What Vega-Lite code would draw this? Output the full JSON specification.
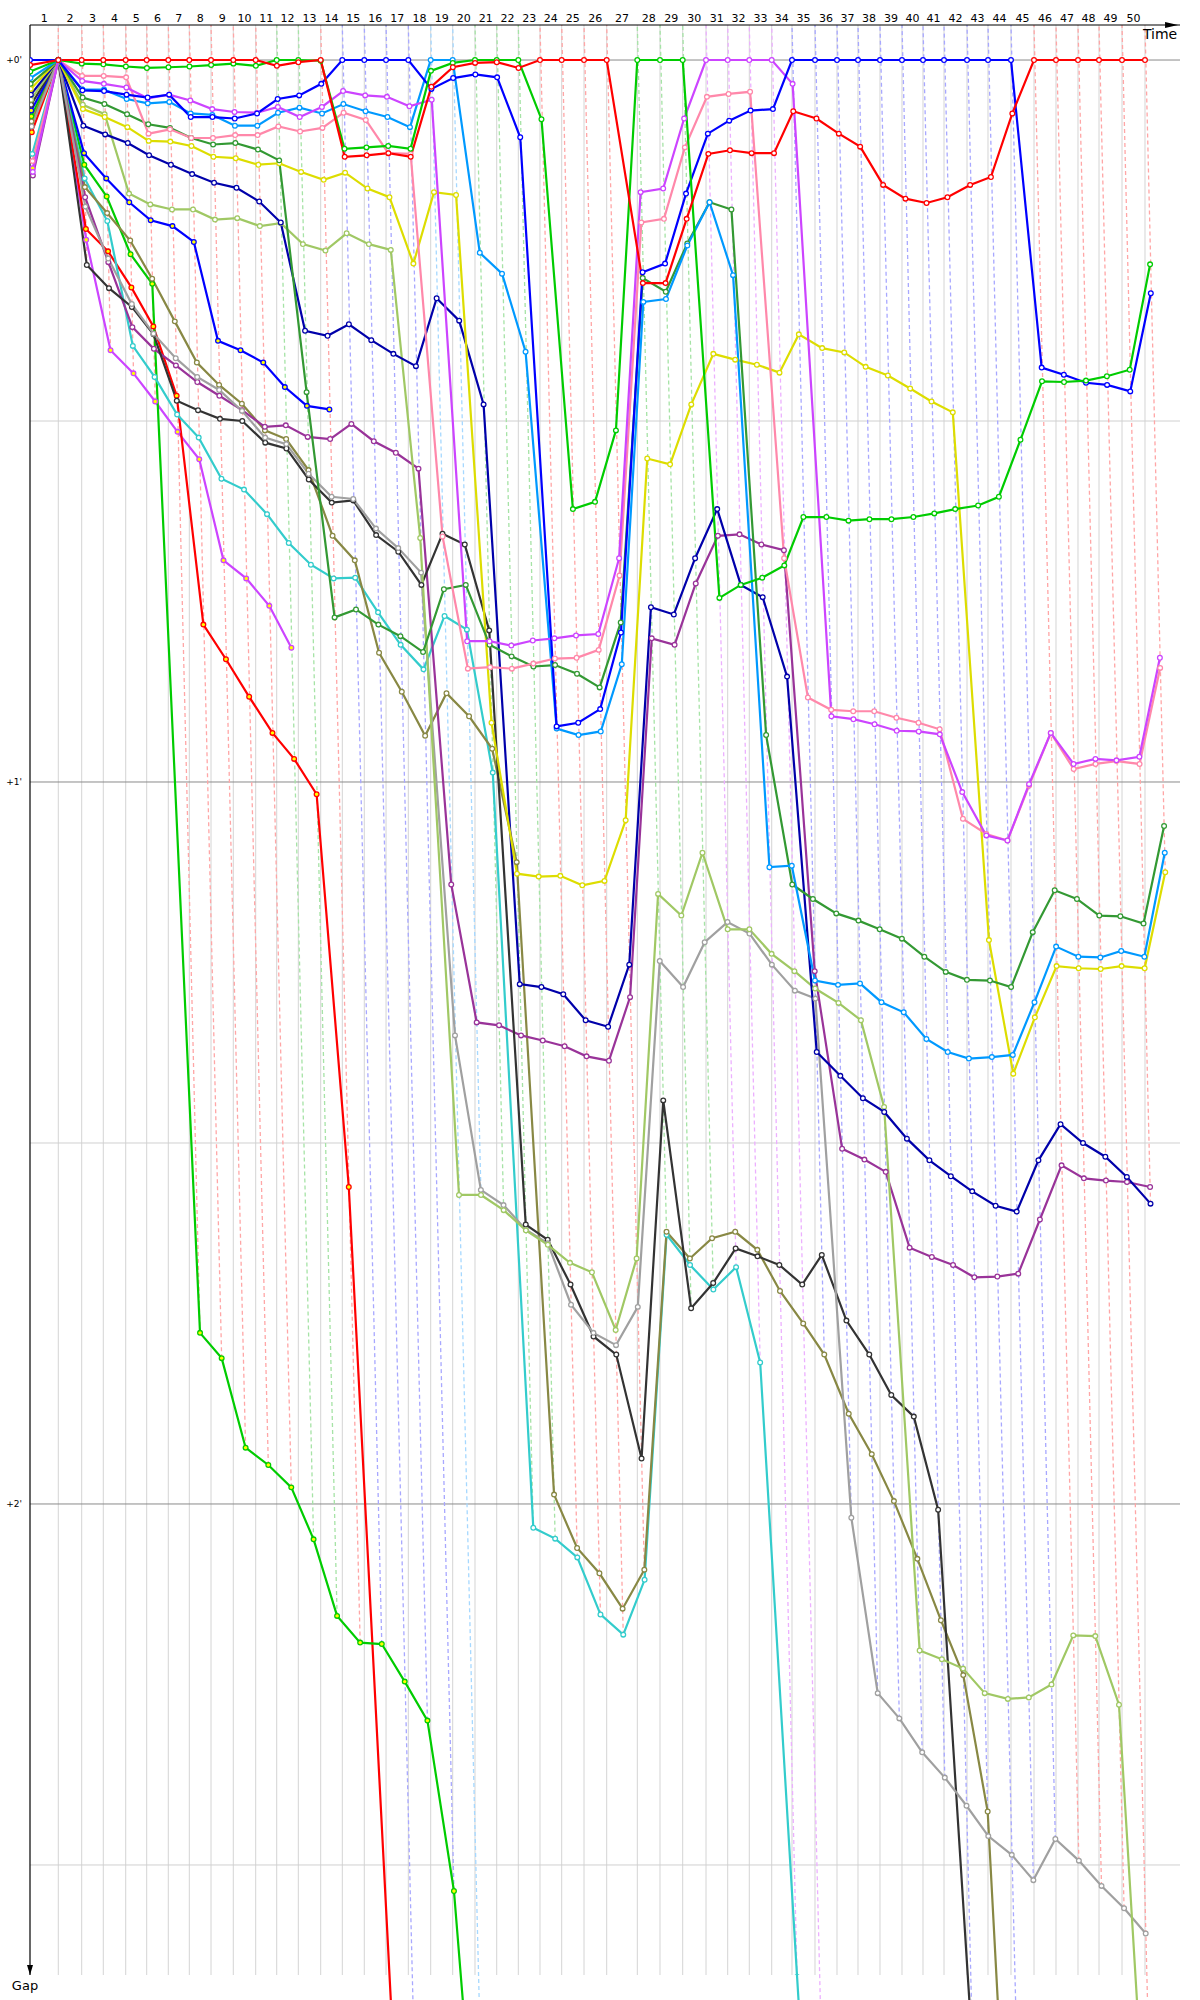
{
"$schema":"https://vega.github.io/schema/vega-lite/v6.json",
"width":1150,"height":1950,
"autosize":{"type":"none"},
"padding":{"left":30,"top":25,"right":20,"bottom":25},
"background":"#ffffff",
"config":{"view":{"stroke":null},"font":"DejaVu Sans"},
"datasets":{
"laps":[
{"k":0,"t":0,"lead":"-"},{"k":1,"t":1.572,"lead":"R"},{"k":2,"t":2.872,"lead":"R"},{"k":3,"t":4.072,"lead":"R"},{"k":4,"t":5.317,"lead":"R"},{"k":5,"t":6.483,"lead":"R"},{"k":6,"t":7.683,"lead":"R"},{"k":7,"t":8.85,"lead":"R"},{"k":8,"t":10.056,"lead":"R"},{"k":9,"t":11.294,"lead":"R"},{"k":10,"t":12.539,"lead":"R"},
{"k":11,"t":13.706,"lead":"G"},{"k":12,"t":14.906,"lead":"G"},{"k":13,"t":16.15,"lead":"R"},{"k":14,"t":17.35,"lead":"B"},{"k":15,"t":18.572,"lead":"B"},{"k":16,"t":19.78,"lead":"B"},{"k":17,"t":21.017,"lead":"B"},{"k":18,"t":22.261,"lead":"LB"},{"k":19,"t":23.483,"lead":"LB"},{"k":20,"t":24.722,"lead":"G"},
{"k":21,"t":25.928,"lead":"G"},{"k":22,"t":27.128,"lead":"G"},{"k":23,"t":28.333,"lead":"R"},{"k":24,"t":29.539,"lead":"R"},{"k":25,"t":30.778,"lead":"R"},{"k":26,"t":32.039,"lead":"R"},{"k":27,"t":33.739,"lead":"G"},{"k":28,"t":35.0,"lead":"G"},{"k":29,"t":36.261,"lead":"G"},{"k":30,"t":37.556,"lead":"M"},
{"k":31,"t":38.761,"lead":"M"},{"k":32,"t":39.961,"lead":"M"},{"k":33,"t":41.206,"lead":"M"},{"k":34,"t":42.333,"lead":"B"},{"k":35,"t":43.611,"lead":"B"},{"k":36,"t":44.833,"lead":"B"},{"k":37,"t":46.0,"lead":"B"},{"k":38,"t":47.222,"lead":"B"},{"k":39,"t":48.444,"lead":"B"},{"k":40,"t":49.611,"lead":"B"},
{"k":41,"t":50.778,"lead":"B"},{"k":42,"t":52.056,"lead":"B"},{"k":43,"t":53.222,"lead":"B"},{"k":44,"t":54.5,"lead":"B"},{"k":45,"t":55.778,"lead":"R"},{"k":46,"t":57.0,"lead":"R"},{"k":47,"t":58.222,"lead":"R"},{"k":48,"t":59.389,"lead":"R"},{"k":49,"t":60.667,"lead":"R"},{"k":50,"t":61.944,"lead":"R"}
],
"gaps":[
{"d":"M2","k":0,"g":0.15},{"d":"M2","k":1,"g":0},{"d":"M2","k":2,"g":0.249},{"d":"M2","k":3,"g":0.402},{"d":"M2","k":4,"g":0.434},{"d":"M2","k":5,"g":0.473},{"d":"M2","k":6,"g":0.515},{"d":"M2","k":7,"g":0.553},{"d":"M2","k":8,"g":0.693},{"d":"M2","k":9,"g":0.718},{"d":"M2","k":10,"g":0.756},{"d":"M2","k":11,"g":0.814},
{"d":"R2","k":0,"g":0.1},{"d":"R2","k":1,"g":0},{"d":"R2","k":2,"g":0.234},{"d":"R2","k":3,"g":0.265},{"d":"R2","k":4,"g":0.315},{"d":"R2","k":5,"g":0.369},{"d":"R2","k":6,"g":0.465},{"d":"R2","k":7,"g":0.782},{"d":"R2","k":8,"g":0.83},{"d":"R2","k":9,"g":0.882},{"d":"R2","k":10,"g":0.932},{"d":"R2","k":11,"g":0.968},{"d":"R2","k":12,"g":1.017},{"d":"R2","k":13,"g":1.561},{"d":"R2","k":15,"g":3.82},
{"d":"G2","k":0,"g":0.078},{"d":"G2","k":1,"g":0},{"d":"G2","k":2,"g":0.145},{"d":"G2","k":3,"g":0.189},{"d":"G2","k":4,"g":0.269},{"d":"G2","k":5,"g":0.31},{"d":"G2","k":6,"g":1.763},{"d":"G2","k":7,"g":1.798},{"d":"G2","k":8,"g":1.922},{"d":"G2","k":9,"g":1.946},{"d":"G2","k":10,"g":1.977},{"d":"G2","k":11,"g":2.049},{"d":"G2","k":12,"g":2.155},{"d":"G2","k":13,"g":2.192},{"d":"G2","k":14,"g":2.194},{"d":"G2","k":15,"g":2.246},{"d":"G2","k":16,"g":2.3},{"d":"G2","k":17,"g":2.536},{"d":"G2","k":18,"g":3.09},
{"d":"B2","k":0,"g":0.07},{"d":"B2","k":1,"g":0},{"d":"B2","k":2,"g":0.129},{"d":"B2","k":3,"g":0.164},{"d":"B2","k":4,"g":0.197},{"d":"B2","k":5,"g":0.222},{"d":"B2","k":6,"g":0.23},{"d":"B2","k":7,"g":0.252},{"d":"B2","k":8,"g":0.389},{"d":"B2","k":9,"g":0.402},{"d":"B2","k":10,"g":0.419},{"d":"B2","k":11,"g":0.453},{"d":"B2","k":12,"g":0.479},{"d":"B2","k":13,"g":0.484},
{"d":"CY","k":0,"g":0.13},{"d":"CY","k":1,"g":0},{"d":"CY","k":2,"g":0.164},{"d":"CY","k":3,"g":0.223},{"d":"CY","k":4,"g":0.396},{"d":"CY","k":5,"g":0.439},{"d":"CY","k":6,"g":0.491},{"d":"CY","k":7,"g":0.523},{"d":"CY","k":8,"g":0.58},{"d":"CY","k":9,"g":0.595},{"d":"CY","k":10,"g":0.629},{"d":"CY","k":11,"g":0.669},{"d":"CY","k":12,"g":0.699},{"d":"CY","k":13,"g":0.718},{"d":"CY","k":14,"g":0.717},{"d":"CY","k":15,"g":0.765},{"d":"CY","k":16,"g":0.81},{"d":"CY","k":17,"g":0.844},{"d":"CY","k":18,"g":0.77},{"d":"CY","k":19,"g":0.789},{"d":"CY","k":20,"g":0.987},{"d":"CY","k":21,"g":2.033},{"d":"CY","k":22,"g":2.048},{"d":"CY","k":23,"g":2.074},{"d":"CY","k":24,"g":2.153},{"d":"CY","k":25,"g":2.181},{"d":"CY","k":26,"g":2.105},{"d":"CY","k":27,"g":1.627},{"d":"CY","k":28,"g":1.669},{"d":"CY","k":29,"g":1.703},{"d":"CY","k":30,"g":1.672},{"d":"CY","k":31,"g":1.804},{"d":"CY","k":32,"g":2.655},{"d":"CY","k":33,"g":3.5},
{"d":"OL","k":0,"g":0.085},{"d":"OL","k":1,"g":0},{"d":"OL","k":2,"g":0.176},{"d":"OL","k":3,"g":0.212},{"d":"OL","k":4,"g":0.25},{"d":"OL","k":5,"g":0.303},{"d":"OL","k":6,"g":0.362},{"d":"OL","k":7,"g":0.419},{"d":"OL","k":8,"g":0.45},{"d":"OL","k":9,"g":0.476},{"d":"OL","k":10,"g":0.513},{"d":"OL","k":11,"g":0.525},{"d":"OL","k":12,"g":0.568},{"d":"OL","k":13,"g":0.659},{"d":"OL","k":14,"g":0.693},{"d":"OL","k":15,"g":0.821},{"d":"OL","k":16,"g":0.875},{"d":"OL","k":17,"g":0.936},{"d":"OL","k":18,"g":0.877},{"d":"OL","k":19,"g":0.909},{"d":"OL","k":20,"g":0.954},{"d":"OL","k":21,"g":1.111},{"d":"OL","k":22,"g":1.987},{"d":"OL","k":23,"g":2.061},{"d":"OL","k":24,"g":2.096},{"d":"OL","k":25,"g":2.145},{"d":"OL","k":26,"g":2.091},{"d":"OL","k":27,"g":1.623},{"d":"OL","k":28,"g":1.66},{"d":"OL","k":29,"g":1.632},{"d":"OL","k":30,"g":1.623},{"d":"OL","k":31,"g":1.648},{"d":"OL","k":32,"g":1.705},{"d":"OL","k":33,"g":1.75},{"d":"OL","k":34,"g":1.793},{"d":"OL","k":35,"g":1.875},{"d":"OL","k":36,"g":1.931},{"d":"OL","k":37,"g":1.996},{"d":"OL","k":38,"g":2.076},{"d":"OL","k":39,"g":2.161},{"d":"OL","k":40,"g":2.237},{"d":"OL","k":41,"g":2.426},{"d":"OL","k":42,"g":3.55},
{"d":"PU","k":0,"g":0.16},{"d":"PU","k":1,"g":0},{"d":"PU","k":2,"g":0.19},{"d":"PU","k":3,"g":0.28},{"d":"PU","k":4,"g":0.37},{"d":"PU","k":5,"g":0.4},{"d":"PU","k":6,"g":0.423},{"d":"PU","k":7,"g":0.446},{"d":"PU","k":8,"g":0.465},{"d":"PU","k":9,"g":0.485},{"d":"PU","k":10,"g":0.508},{"d":"PU","k":11,"g":0.506},{"d":"PU","k":12,"g":0.522},{"d":"PU","k":13,"g":0.525},{"d":"PU","k":14,"g":0.504},{"d":"PU","k":15,"g":0.528},{"d":"PU","k":16,"g":0.544},{"d":"PU","k":17,"g":0.566},{"d":"PU","k":18,"g":1.142},{"d":"PU","k":19,"g":1.333},{"d":"PU","k":20,"g":1.337},{"d":"PU","k":21,"g":1.351},{"d":"PU","k":22,"g":1.358},{"d":"PU","k":23,"g":1.366},{"d":"PU","k":24,"g":1.38},{"d":"PU","k":25,"g":1.386},{"d":"PU","k":26,"g":1.298},{"d":"PU","k":27,"g":0.801},{"d":"PU","k":28,"g":0.81},{"d":"PU","k":29,"g":0.725},{"d":"PU","k":30,"g":0.659},{"d":"PU","k":31,"g":0.657},{"d":"PU","k":32,"g":0.671},{"d":"PU","k":33,"g":0.679},{"d":"PU","k":34,"g":1.262},{"d":"PU","k":35,"g":1.508},{"d":"PU","k":36,"g":1.523},{"d":"PU","k":37,"g":1.54},{"d":"PU","k":38,"g":1.645},{"d":"PU","k":39,"g":1.658},{"d":"PU","k":40,"g":1.669},{"d":"PU","k":41,"g":1.686},{"d":"PU","k":42,"g":1.685},{"d":"PU","k":43,"g":1.681},{"d":"PU","k":44,"g":1.606},{"d":"PU","k":45,"g":1.531},{"d":"PU","k":46,"g":1.549},{"d":"PU","k":47,"g":1.552},{"d":"PU","k":48,"g":1.554},{"d":"PU","k":49,"g":1.561},
{"d":"BK","k":0,"g":0.062},{"d":"BK","k":1,"g":0},{"d":"BK","k":2,"g":0.284},{"d":"BK","k":3,"g":0.316},{"d":"BK","k":4,"g":0.342},{"d":"BK","k":5,"g":0.38},{"d":"BK","k":6,"g":0.472},{"d":"BK","k":7,"g":0.485},{"d":"BK","k":8,"g":0.497},{"d":"BK","k":9,"g":0.5},{"d":"BK","k":10,"g":0.53},{"d":"BK","k":11,"g":0.538},{"d":"BK","k":12,"g":0.581},{"d":"BK","k":13,"g":0.613},{"d":"BK","k":14,"g":0.61},{"d":"BK","k":15,"g":0.658},{"d":"BK","k":16,"g":0.681},{"d":"BK","k":17,"g":0.727},{"d":"BK","k":18,"g":0.656},{"d":"BK","k":19,"g":0.671},{"d":"BK","k":20,"g":0.79},{"d":"BK","k":21,"g":1.613},{"d":"BK","k":22,"g":1.634},{"d":"BK","k":23,"g":1.696},{"d":"BK","k":24,"g":1.768},{"d":"BK","k":25,"g":1.793},{"d":"BK","k":26,"g":1.937},{"d":"BK","k":27,"g":1.441},{"d":"BK","k":28,"g":1.729},{"d":"BK","k":29,"g":1.694},{"d":"BK","k":30,"g":1.646},{"d":"BK","k":31,"g":1.657},{"d":"BK","k":32,"g":1.669},{"d":"BK","k":33,"g":1.696},{"d":"BK","k":34,"g":1.655},{"d":"BK","k":35,"g":1.746},{"d":"BK","k":36,"g":1.793},{"d":"BK","k":37,"g":1.849},{"d":"BK","k":38,"g":1.879},{"d":"BK","k":39,"g":2.008},{"d":"BK","k":40,"g":2.76},
{"d":"GR","k":0,"g":0.092},{"d":"GR","k":1,"g":0},{"d":"GR","k":2,"g":0.203},{"d":"GR","k":3,"g":0.275},{"d":"GR","k":4,"g":0.338},{"d":"GR","k":5,"g":0.379},{"d":"GR","k":6,"g":0.413},{"d":"GR","k":7,"g":0.439},{"d":"GR","k":8,"g":0.457},{"d":"GR","k":9,"g":0.486},{"d":"GR","k":10,"g":0.523},{"d":"GR","k":11,"g":0.532},{"d":"GR","k":12,"g":0.573},{"d":"GR","k":13,"g":0.605},{"d":"GR","k":14,"g":0.608},{"d":"GR","k":15,"g":0.649},{"d":"GR","k":16,"g":0.676},{"d":"GR","k":17,"g":0.71},{"d":"GR","k":18,"g":1.351},{"d":"GR","k":19,"g":1.565},{"d":"GR","k":20,"g":1.586},{"d":"GR","k":21,"g":1.62},{"d":"GR","k":22,"g":1.639},{"d":"GR","k":23,"g":1.724},{"d":"GR","k":24,"g":1.763},{"d":"GR","k":25,"g":1.78},{"d":"GR","k":26,"g":1.727},{"d":"GR","k":27,"g":1.248},{"d":"GR","k":28,"g":1.284},{"d":"GR","k":29,"g":1.222},{"d":"GR","k":30,"g":1.194},{"d":"GR","k":31,"g":1.21},{"d":"GR","k":32,"g":1.253},{"d":"GR","k":33,"g":1.289},{"d":"GR","k":34,"g":1.3},{"d":"GR","k":35,"g":2.019},{"d":"GR","k":36,"g":2.262},{"d":"GR","k":37,"g":2.297},{"d":"GR","k":38,"g":2.344},{"d":"GR","k":39,"g":2.379},{"d":"GR","k":40,"g":2.418},{"d":"GR","k":41,"g":2.46},{"d":"GR","k":42,"g":2.486},{"d":"GR","k":43,"g":2.521},{"d":"GR","k":44,"g":2.464},{"d":"GR","k":45,"g":2.494},{"d":"GR","k":46,"g":2.529},{"d":"GR","k":47,"g":2.56},{"d":"GR","k":48,"g":2.595},
{"d":"LO","k":0,"g":0.055},{"d":"LO","k":1,"g":0},{"d":"LO","k":2,"g":0.062},{"d":"LO","k":3,"g":0.075},{"d":"LO","k":4,"g":0.185},{"d":"LO","k":5,"g":0.2},{"d":"LO","k":6,"g":0.207},{"d":"LO","k":7,"g":0.207},{"d":"LO","k":8,"g":0.221},{"d":"LO","k":9,"g":0.219},{"d":"LO","k":10,"g":0.23},{"d":"LO","k":11,"g":0.226},{"d":"LO","k":12,"g":0.255},{"d":"LO","k":13,"g":0.264},{"d":"LO","k":14,"g":0.24},{"d":"LO","k":15,"g":0.255},{"d":"LO","k":16,"g":0.263},{"d":"LO","k":17,"g":0.662},{"d":"LO","k":18,"g":1.572},{"d":"LO","k":19,"g":1.572},{"d":"LO","k":20,"g":1.593},{"d":"LO","k":21,"g":1.621},{"d":"LO","k":22,"g":1.641},{"d":"LO","k":23,"g":1.666},{"d":"LO","k":24,"g":1.679},{"d":"LO","k":25,"g":1.759},{"d":"LO","k":26,"g":1.66},{"d":"LO","k":27,"g":1.155},{"d":"LO","k":28,"g":1.185},{"d":"LO","k":29,"g":1.098},{"d":"LO","k":30,"g":1.204},{"d":"LO","k":31,"g":1.204},{"d":"LO","k":32,"g":1.238},{"d":"LO","k":33,"g":1.262},{"d":"LO","k":34,"g":1.286},{"d":"LO","k":35,"g":1.306},{"d":"LO","k":36,"g":1.33},{"d":"LO","k":37,"g":1.45},{"d":"LO","k":38,"g":2.203},{"d":"LO","k":39,"g":2.215},{"d":"LO","k":40,"g":2.228},{"d":"LO","k":41,"g":2.262},{"d":"LO","k":42,"g":2.27},{"d":"LO","k":43,"g":2.268},{"d":"LO","k":44,"g":2.25},{"d":"LO","k":45,"g":2.182},{"d":"LO","k":46,"g":2.183},{"d":"LO","k":47,"g":2.278},{"d":"LO","k":48,"g":3.09},
{"d":"N1","k":0,"g":0.048},{"d":"N1","k":1,"g":0},{"d":"N1","k":2,"g":0.091},{"d":"N1","k":3,"g":0.103},{"d":"N1","k":4,"g":0.115},{"d":"N1","k":5,"g":0.132},{"d":"N1","k":6,"g":0.145},{"d":"N1","k":7,"g":0.158},{"d":"N1","k":8,"g":0.17},{"d":"N1","k":9,"g":0.177},{"d":"N1","k":10,"g":0.196},{"d":"N1","k":11,"g":0.225},{"d":"N1","k":12,"g":0.375},{"d":"N1","k":13,"g":0.382},{"d":"N1","k":14,"g":0.366},{"d":"N1","k":15,"g":0.388},{"d":"N1","k":16,"g":0.407},{"d":"N1","k":17,"g":0.424},{"d":"N1","k":18,"g":0.33},{"d":"N1","k":19,"g":0.361},{"d":"N1","k":20,"g":0.477},{"d":"N1","k":21,"g":1.28},{"d":"N1","k":22,"g":1.284},{"d":"N1","k":23,"g":1.294},{"d":"N1","k":24,"g":1.33},{"d":"N1","k":25,"g":1.339},{"d":"N1","k":26,"g":1.253},{"d":"N1","k":27,"g":0.758},{"d":"N1","k":28,"g":0.768},{"d":"N1","k":29,"g":0.69},{"d":"N1","k":30,"g":0.622},{"d":"N1","k":31,"g":0.727},{"d":"N1","k":32,"g":0.744},{"d":"N1","k":33,"g":0.854},{"d":"N1","k":34,"g":1.374},{"d":"N1","k":35,"g":1.407},{"d":"N1","k":36,"g":1.438},{"d":"N1","k":37,"g":1.457},{"d":"N1","k":38,"g":1.494},{"d":"N1","k":39,"g":1.524},{"d":"N1","k":40,"g":1.546},{"d":"N1","k":41,"g":1.567},{"d":"N1","k":42,"g":1.587},{"d":"N1","k":43,"g":1.595},{"d":"N1","k":44,"g":1.524},{"d":"N1","k":45,"g":1.474},{"d":"N1","k":46,"g":1.5},{"d":"N1","k":47,"g":1.519},{"d":"N1","k":48,"g":1.547},{"d":"N1","k":49,"g":1.584},
{"d":"Y1","k":0,"g":0.04},{"d":"Y1","k":1,"g":0},{"d":"Y1","k":2,"g":0.068},{"d":"Y1","k":3,"g":0.079},{"d":"Y1","k":4,"g":0.093},{"d":"Y1","k":5,"g":0.112},{"d":"Y1","k":6,"g":0.113},{"d":"Y1","k":7,"g":0.119},{"d":"Y1","k":8,"g":0.134},{"d":"Y1","k":9,"g":0.136},{"d":"Y1","k":10,"g":0.145},{"d":"Y1","k":11,"g":0.143},{"d":"Y1","k":12,"g":0.155},{"d":"Y1","k":13,"g":0.166},{"d":"Y1","k":14,"g":0.156},{"d":"Y1","k":15,"g":0.178},{"d":"Y1","k":16,"g":0.19},{"d":"Y1","k":17,"g":0.282},{"d":"Y1","k":18,"g":0.183},{"d":"Y1","k":19,"g":0.187},{"d":"Y1","k":20,"g":0.918},{"d":"Y1","k":21,"g":1.127},{"d":"Y1","k":22,"g":1.131},{"d":"Y1","k":23,"g":1.13},{"d":"Y1","k":24,"g":1.143},{"d":"Y1","k":25,"g":1.137},{"d":"Y1","k":26,"g":1.053},{"d":"Y1","k":27,"g":0.552},{"d":"Y1","k":28,"g":0.56},{"d":"Y1","k":29,"g":0.477},{"d":"Y1","k":30,"g":0.407},{"d":"Y1","k":31,"g":0.415},{"d":"Y1","k":32,"g":0.422},{"d":"Y1","k":33,"g":0.433},{"d":"Y1","k":34,"g":0.38},{"d":"Y1","k":35,"g":0.399},{"d":"Y1","k":36,"g":0.405},{"d":"Y1","k":37,"g":0.425},{"d":"Y1","k":38,"g":0.437},{"d":"Y1","k":39,"g":0.455},{"d":"Y1","k":40,"g":0.473},{"d":"Y1","k":41,"g":0.488},{"d":"Y1","k":42,"g":1.219},{"d":"Y1","k":43,"g":1.404},{"d":"Y1","k":44,"g":1.326},{"d":"Y1","k":45,"g":1.255},{"d":"Y1","k":46,"g":1.258},{"d":"Y1","k":47,"g":1.259},{"d":"Y1","k":48,"g":1.255},{"d":"Y1","k":49,"g":1.258},{"d":"Y1","k":50,"g":1.125},
{"d":"DG","k":0,"g":0.033},{"d":"DG","k":1,"g":0},{"d":"DG","k":2,"g":0.052},{"d":"DG","k":3,"g":0.061},{"d":"DG","k":4,"g":0.075},{"d":"DG","k":5,"g":0.089},{"d":"DG","k":6,"g":0.094},{"d":"DG","k":7,"g":0.108},{"d":"DG","k":8,"g":0.117},{"d":"DG","k":9,"g":0.115},{"d":"DG","k":10,"g":0.124},{"d":"DG","k":11,"g":0.139},{"d":"DG","k":12,"g":0.46},{"d":"DG","k":13,"g":0.772},{"d":"DG","k":14,"g":0.761},{"d":"DG","k":15,"g":0.782},{"d":"DG","k":16,"g":0.798},{"d":"DG","k":17,"g":0.82},{"d":"DG","k":18,"g":0.733},{"d":"DG","k":19,"g":0.727},{"d":"DG","k":20,"g":0.81},{"d":"DG","k":21,"g":0.826},{"d":"DG","k":22,"g":0.84},{"d":"DG","k":23,"g":0.838},{"d":"DG","k":24,"g":0.85},{"d":"DG","k":25,"g":0.869},{"d":"DG","k":26,"g":0.779},{"d":"DG","k":27,"g":0.302},{"d":"DG","k":28,"g":0.321},{"d":"DG","k":29,"g":0.254},{"d":"DG","k":30,"g":0.197},{"d":"DG","k":31,"g":0.207},{"d":"DG","k":32,"g":0.935},{"d":"DG","k":33,"g":1.142},{"d":"DG","k":34,"g":1.162},{"d":"DG","k":35,"g":1.182},{"d":"DG","k":36,"g":1.192},{"d":"DG","k":37,"g":1.204},{"d":"DG","k":38,"g":1.217},{"d":"DG","k":39,"g":1.242},{"d":"DG","k":40,"g":1.263},{"d":"DG","k":41,"g":1.274},{"d":"DG","k":42,"g":1.275},{"d":"DG","k":43,"g":1.284},{"d":"DG","k":44,"g":1.208},{"d":"DG","k":45,"g":1.15},{"d":"DG","k":46,"g":1.162},{"d":"DG","k":47,"g":1.185},{"d":"DG","k":48,"g":1.186},{"d":"DG","k":49,"g":1.196},{"d":"DG","k":50,"g":1.061},
{"d":"LB","k":0,"g":0.025},{"d":"LB","k":1,"g":0},{"d":"LB","k":2,"g":0.041},{"d":"LB","k":3,"g":0.041},{"d":"LB","k":4,"g":0.054},{"d":"LB","k":5,"g":0.06},{"d":"LB","k":6,"g":0.058},{"d":"LB","k":7,"g":0.074},{"d":"LB","k":8,"g":0.076},{"d":"LB","k":9,"g":0.091},{"d":"LB","k":10,"g":0.091},{"d":"LB","k":11,"g":0.073},{"d":"LB","k":12,"g":0.066},{"d":"LB","k":13,"g":0.074},{"d":"LB","k":14,"g":0.061},{"d":"LB","k":15,"g":0.071},{"d":"LB","k":16,"g":0.079},{"d":"LB","k":17,"g":0.093},{"d":"LB","k":18,"g":0},{"d":"LB","k":19,"g":0},{"d":"LB","k":20,"g":0.267},{"d":"LB","k":21,"g":0.296},{"d":"LB","k":22,"g":0.404},{"d":"LB","k":23,"g":0.926},{"d":"LB","k":24,"g":0.935},{"d":"LB","k":25,"g":0.93},{"d":"LB","k":26,"g":0.837},{"d":"LB","k":27,"g":0.335},{"d":"LB","k":28,"g":0.331},{"d":"LB","k":29,"g":0.257},{"d":"LB","k":30,"g":0.197},{"d":"LB","k":31,"g":0.298},{"d":"LB","k":32,"g":1.118},{"d":"LB","k":33,"g":1.116},{"d":"LB","k":34,"g":1.275},{"d":"LB","k":35,"g":1.281},{"d":"LB","k":36,"g":1.279},{"d":"LB","k":37,"g":1.305},{"d":"LB","k":38,"g":1.319},{"d":"LB","k":39,"g":1.356},{"d":"LB","k":40,"g":1.374},{"d":"LB","k":41,"g":1.383},{"d":"LB","k":42,"g":1.381},{"d":"LB","k":43,"g":1.378},{"d":"LB","k":44,"g":1.305},{"d":"LB","k":45,"g":1.228},{"d":"LB","k":46,"g":1.242},{"d":"LB","k":47,"g":1.243},{"d":"LB","k":48,"g":1.234},{"d":"LB","k":49,"g":1.242},{"d":"LB","k":50,"g":1.098},
{"d":"P1","k":0,"g":0.14},{"d":"P1","k":1,"g":0},{"d":"P1","k":2,"g":0.022},{"d":"P1","k":3,"g":0.022},{"d":"P1","k":4,"g":0.024},{"d":"P1","k":5,"g":0.102},{"d":"P1","k":6,"g":0.096},{"d":"P1","k":7,"g":0.108},{"d":"P1","k":8,"g":0.108},{"d":"P1","k":9,"g":0.104},{"d":"P1","k":10,"g":0.104},{"d":"P1","k":11,"g":0.092},{"d":"P1","k":12,"g":0.099},{"d":"P1","k":13,"g":0.094},{"d":"P1","k":14,"g":0.073},{"d":"P1","k":15,"g":0.083},{"d":"P1","k":16,"g":0.129},{"d":"P1","k":17,"g":0.13},{"d":"P1","k":18,"g":0.66},{"d":"P1","k":19,"g":0.843},{"d":"P1","k":20,"g":0.841},{"d":"P1","k":21,"g":0.843},{"d":"P1","k":22,"g":0.836},{"d":"P1","k":23,"g":0.829},{"d":"P1","k":24,"g":0.828},{"d":"P1","k":25,"g":0.817},{"d":"P1","k":26,"g":0.714},{"d":"P1","k":27,"g":0.225},{"d":"P1","k":28,"g":0.22},{"d":"P1","k":29,"g":0.121},{"d":"P1","k":30,"g":0.051},{"d":"P1","k":31,"g":0.047},{"d":"P1","k":32,"g":0.044},{"d":"P1","k":33,"g":0.69},{"d":"P1","k":34,"g":0.883},{"d":"P1","k":35,"g":0.9},{"d":"P1","k":36,"g":0.902},{"d":"P1","k":37,"g":0.902},{"d":"P1","k":38,"g":0.911},{"d":"P1","k":39,"g":0.918},{"d":"P1","k":40,"g":0.927},{"d":"P1","k":41,"g":1.051},{"d":"P1","k":42,"g":1.072},{"d":"P1","k":43,"g":1.081},{"d":"P1","k":44,"g":1.005},{"d":"P1","k":45,"g":0.932},{"d":"P1","k":46,"g":0.982},{"d":"P1","k":47,"g":0.975},{"d":"P1","k":48,"g":0.971},{"d":"P1","k":49,"g":0.975},{"d":"P1","k":50,"g":0.842},
{"d":"M1","k":0,"g":0.155},{"d":"M1","k":1,"g":0},{"d":"M1","k":2,"g":0.029},{"d":"M1","k":3,"g":0.033},{"d":"M1","k":4,"g":0.038},{"d":"M1","k":5,"g":0.053},{"d":"M1","k":6,"g":0.048},{"d":"M1","k":7,"g":0.056},{"d":"M1","k":8,"g":0.068},{"d":"M1","k":9,"g":0.072},{"d":"M1","k":10,"g":0.073},{"d":"M1","k":11,"g":0.065},{"d":"M1","k":12,"g":0.079},{"d":"M1","k":13,"g":0.065},{"d":"M1","k":14,"g":0.043},{"d":"M1","k":15,"g":0.049},{"d":"M1","k":16,"g":0.051},{"d":"M1","k":17,"g":0.064},{"d":"M1","k":18,"g":0.055},{"d":"M1","k":19,"g":0.805},{"d":"M1","k":20,"g":0.805},{"d":"M1","k":21,"g":0.811},{"d":"M1","k":22,"g":0.804},{"d":"M1","k":23,"g":0.801},{"d":"M1","k":24,"g":0.797},{"d":"M1","k":25,"g":0.795},{"d":"M1","k":26,"g":0.69},{"d":"M1","k":27,"g":0.183},{"d":"M1","k":28,"g":0.178},{"d":"M1","k":29,"g":0.081},{"d":"M1","k":30,"g":0},{"d":"M1","k":31,"g":0},{"d":"M1","k":32,"g":0},{"d":"M1","k":33,"g":0},{"d":"M1","k":34,"g":0.033},{"d":"M1","k":35,"g":0.909},{"d":"M1","k":36,"g":0.913},{"d":"M1","k":37,"g":0.92},{"d":"M1","k":38,"g":0.929},{"d":"M1","k":39,"g":0.93},{"d":"M1","k":40,"g":0.934},{"d":"M1","k":41,"g":1.014},{"d":"M1","k":42,"g":1.074},{"d":"M1","k":43,"g":1.081},{"d":"M1","k":44,"g":1.003},{"d":"M1","k":45,"g":0.932},{"d":"M1","k":46,"g":0.975},{"d":"M1","k":47,"g":0.968},{"d":"M1","k":48,"g":0.97},{"d":"M1","k":49,"g":0.965},{"d":"M1","k":50,"g":0.828},
{"d":"B1","k":0,"g":0},{"d":"B1","k":1,"g":0},{"d":"B1","k":2,"g":0.042},{"d":"B1","k":3,"g":0.043},{"d":"B1","k":4,"g":0.048},{"d":"B1","k":5,"g":0.052},{"d":"B1","k":6,"g":0.048},{"d":"B1","k":7,"g":0.079},{"d":"B1","k":8,"g":0.079},{"d":"B1","k":9,"g":0.081},{"d":"B1","k":10,"g":0.074},{"d":"B1","k":11,"g":0.054},{"d":"B1","k":12,"g":0.049},{"d":"B1","k":13,"g":0.033},{"d":"B1","k":14,"g":0},{"d":"B1","k":15,"g":0},{"d":"B1","k":16,"g":0},{"d":"B1","k":17,"g":0},{"d":"B1","k":18,"g":0.04},{"d":"B1","k":19,"g":0.025},{"d":"B1","k":20,"g":0.02},{"d":"B1","k":21,"g":0.024},{"d":"B1","k":22,"g":0.107},{"d":"B1","k":23,"g":0.923},{"d":"B1","k":24,"g":0.918},{"d":"B1","k":25,"g":0.899},{"d":"B1","k":26,"g":0.793},{"d":"B1","k":27,"g":0.294},{"d":"B1","k":28,"g":0.282},{"d":"B1","k":29,"g":0.185},{"d":"B1","k":30,"g":0.102},{"d":"B1","k":31,"g":0.084},{"d":"B1","k":32,"g":0.07},{"d":"B1","k":33,"g":0.068},{"d":"B1","k":34,"g":0},{"d":"B1","k":35,"g":0},{"d":"B1","k":36,"g":0},{"d":"B1","k":37,"g":0},{"d":"B1","k":38,"g":0},{"d":"B1","k":39,"g":0},{"d":"B1","k":40,"g":0},{"d":"B1","k":41,"g":0},{"d":"B1","k":42,"g":0},{"d":"B1","k":43,"g":0},{"d":"B1","k":44,"g":0},{"d":"B1","k":45,"g":0.426},{"d":"B1","k":46,"g":0.436},{"d":"B1","k":47,"g":0.447},{"d":"B1","k":48,"g":0.45},{"d":"B1","k":49,"g":0.459},{"d":"B1","k":50,"g":0.323},
{"d":"G1","k":0,"g":0.016},{"d":"G1","k":1,"g":0},{"d":"G1","k":2,"g":0.005},{"d":"G1","k":3,"g":0.006},{"d":"G1","k":4,"g":0.009},{"d":"G1","k":5,"g":0.011},{"d":"G1","k":6,"g":0.01},{"d":"G1","k":7,"g":0.009},{"d":"G1","k":8,"g":0.007},{"d":"G1","k":9,"g":0.005},{"d":"G1","k":10,"g":0.008},{"d":"G1","k":11,"g":0},{"d":"G1","k":12,"g":0},{"d":"G1","k":13,"g":0.001},{"d":"G1","k":14,"g":0.123},{"d":"G1","k":15,"g":0.121},{"d":"G1","k":16,"g":0.119},{"d":"G1","k":17,"g":0.123},{"d":"G1","k":18,"g":0.015},{"d":"G1","k":19,"g":0.004},{"d":"G1","k":20,"g":0},{"d":"G1","k":21,"g":0},{"d":"G1","k":22,"g":0},{"d":"G1","k":23,"g":0.082},{"d":"G1","k":24,"g":0.622},{"d":"G1","k":25,"g":0.612},{"d":"G1","k":26,"g":0.513},{"d":"G1","k":27,"g":0},{"d":"G1","k":28,"g":0},{"d":"G1","k":29,"g":0},{"d":"G1","k":30,"g":0.745},{"d":"G1","k":31,"g":0.727},{"d":"G1","k":32,"g":0.717},{"d":"G1","k":33,"g":0.7},{"d":"G1","k":34,"g":0.633},{"d":"G1","k":35,"g":0.633},{"d":"G1","k":36,"g":0.638},{"d":"G1","k":37,"g":0.636},{"d":"G1","k":38,"g":0.636},{"d":"G1","k":39,"g":0.633},{"d":"G1","k":40,"g":0.628},{"d":"G1","k":41,"g":0.622},{"d":"G1","k":42,"g":0.617},{"d":"G1","k":43,"g":0.605},{"d":"G1","k":44,"g":0.526},{"d":"G1","k":45,"g":0.445},{"d":"G1","k":46,"g":0.446},{"d":"G1","k":47,"g":0.444},{"d":"G1","k":48,"g":0.438},{"d":"G1","k":49,"g":0.429},{"d":"G1","k":50,"g":0.283},
{"d":"R1","k":0,"g":0.007},{"d":"R1","k":1,"g":0},{"d":"R1","k":2,"g":0},{"d":"R1","k":3,"g":0},{"d":"R1","k":4,"g":0},{"d":"R1","k":5,"g":0},{"d":"R1","k":6,"g":0},{"d":"R1","k":7,"g":0},{"d":"R1","k":8,"g":0},{"d":"R1","k":9,"g":0},{"d":"R1","k":10,"g":0},{"d":"R1","k":11,"g":0.008},{"d":"R1","k":12,"g":0.003},{"d":"R1","k":13,"g":0},{"d":"R1","k":14,"g":0.134},{"d":"R1","k":15,"g":0.132},{"d":"R1","k":16,"g":0.129},{"d":"R1","k":17,"g":0.134},{"d":"R1","k":18,"g":0.037},{"d":"R1","k":19,"g":0.01},{"d":"R1","k":20,"g":0.004},{"d":"R1","k":21,"g":0.003},{"d":"R1","k":22,"g":0.011},{"d":"R1","k":23,"g":0},{"d":"R1","k":24,"g":0},{"d":"R1","k":25,"g":0},{"d":"R1","k":26,"g":0},{"d":"R1","k":27,"g":0.309},{"d":"R1","k":28,"g":0.309},{"d":"R1","k":29,"g":0.22},{"d":"R1","k":30,"g":0.13},{"d":"R1","k":31,"g":0.125},{"d":"R1","k":32,"g":0.129},{"d":"R1","k":33,"g":0.129},{"d":"R1","k":34,"g":0.071},{"d":"R1","k":35,"g":0.081},{"d":"R1","k":36,"g":0.102},{"d":"R1","k":37,"g":0.12},{"d":"R1","k":38,"g":0.173},{"d":"R1","k":39,"g":0.192},{"d":"R1","k":40,"g":0.198},{"d":"R1","k":41,"g":0.19},{"d":"R1","k":42,"g":0.173},{"d":"R1","k":43,"g":0.162},{"d":"R1","k":44,"g":0.074},{"d":"R1","k":45,"g":0},{"d":"R1","k":46,"g":0},{"d":"R1","k":47,"g":0},{"d":"R1","k":48,"g":0},{"d":"R1","k":49,"g":0},{"d":"R1","k":50,"g":0}
]},
"layer":[
{"data":{"name":"laps"},
 "transform":[{"filter":"datum.k >= 1"}],
 "mark":{"type":"rule","color":"#d4d4d4","strokeWidth":1},
 "encoding":{
  "x":{"field":"t","type":"quantitative","scale":{"type":"linear","domain":[0,63.889],"nice":false,"zero":false},"axis":null}
 }},
{"data":{"values":[{"g":0.5},{"g":1.5},{"g":2.5}]},
 "mark":{"type":"rule","color":"#d0d0d0","strokeWidth":1},
 "encoding":{
  "y":{"field":"g","type":"quantitative","scale":{"type":"linear","domain":[-0.0485,2.6524],"nice":false,"zero":false,"reverse":true},"axis":null}}},
{"data":{"values":[{"g":0,"lab":"+0'"},{"g":1,"lab":"+1'"},{"g":2,"lab":"+2'"}]},
 "layer":[
  {"mark":{"type":"rule","color":"#8a8a8a","strokeWidth":1},
   "encoding":{"y":{"field":"g","type":"quantitative","axis":null}}},
  {"mark":{"type":"text","align":"right","baseline":"middle","dx":-8,"fontSize":9,"font":"DejaVu Sans","color":"#000000"},
   "encoding":{"x":{"datum":0,"type":"quantitative","axis":null},"y":{"field":"g","type":"quantitative","axis":null},"text":{"field":"lab","type":"nominal"}}}
 ]},
{"data":{"name":"gaps"},
 "transform":[{"filter":"datum.k >= 1"},{"aggregate":[{"op":"max","field":"g","as":"gm"}],"groupby":["k"]},{"lookup":"k","from":{"data":{"name":"laps"},"key":"k","fields":["t","lead"]}},{"calculate":"datum.t + datum.gm","as":"xe"}],
 "mark":{"type":"rule","strokeWidth":1.3,"strokeDash":[4,3]},
 "encoding":{"x":{"field":"xe","type":"quantitative","axis":null},"y":{"field":"gm","type":"quantitative","axis":null},"x2":{"field":"t"},"y2":{"datum":-0.0485},
  "color":{"field":"lead","type":"nominal","scale":{"domain":["R","G","B","LB","M"],"range":["#ffa6a6","#a6e3a6","#a8a8ff","#a6d8ff","#ecb0ff"]},"legend":null}}},
{"data":{"values":[{"a":1}]},
 "mark":{"type":"rule","color":"#000000","strokeWidth":1.2},
 "encoding":{"y":{"datum":-0.0485,"type":"quantitative","axis":null}}},
{"data":{"values":[{"a":1}]},
 "mark":{"type":"rule","color":"#000000","strokeWidth":1.2},
 "encoding":{"x":{"datum":0,"type":"quantitative","axis":null}}},
{"data":{"values":[{"a":1}]},
 "mark":{"type":"point","shape":"M-2,-0.46L-2,0.46L0,0Z","size":169,"filled":true,"color":"#000000","opacity":1},
 "encoding":{"x":{"datum":63.78,"type":"quantitative","axis":null},"y":{"datum":-0.0485,"type":"quantitative","axis":null}}},
{"data":{"values":[{"a":1}]},
 "mark":{"type":"point","shape":"M-0.6,-2L0.6,-2L0,0Z","size":100,"filled":true,"color":"#000000","opacity":1},
 "encoding":{"x":{"datum":0,"type":"quantitative","axis":null},"y":{"datum":2.6524,"type":"quantitative","axis":null}}},
{"data":{"values":[{"a":1}]},
 "mark":{"type":"text","text":"Time","align":"center","baseline":"middle","dx":-18,"dy":10,"fontSize":14,"font":"DejaVu Sans","color":"#000000"},
 "encoding":{"x":{"datum":63.78,"type":"quantitative","axis":null},"y":{"datum":-0.0485,"type":"quantitative","axis":null}}},
{"data":{"values":[{"a":1}]},
 "mark":{"type":"text","text":"Gap","align":"center","baseline":"middle","dx":-5,"dy":11,"fontSize":13,"font":"DejaVu Sans","color":"#000000"},
 "encoding":{"x":{"datum":0,"type":"quantitative","axis":null},"y":{"datum":2.6524,"type":"quantitative","axis":null}}},
{"data":{"name":"laps"},
 "transform":[{"window":[{"op":"lag","field":"t","as":"tp"}],"sort":[{"field":"k","order":"ascending"}]},{"filter":"datum.k >= 1"},{"calculate":"(datum.t + datum.tp) / 2","as":"mid"}],
 "mark":{"type":"text","align":"center","baseline":"alphabetic","dy":-3,"fontSize":11,"font":"DejaVu Sans","color":"#000000"},
 "encoding":{"x":{"field":"mid","type":"quantitative","axis":null},"y":{"datum":-0.0485,"type":"quantitative","axis":null},"text":{"field":"k","type":"nominal"}}},
{"data":{"name":"gaps"},
 "transform":[{"lookup":"k","from":{"data":{"name":"laps"},"key":"k","fields":["t"]}},{"calculate":"datum.t + datum.g","as":"T"}],
 "mark":{"type":"line","strokeWidth":2.2},
 "encoding":{"x":{"field":"T","type":"quantitative","axis":null},"y":{"field":"g","type":"quantitative","axis":null},"order":{"field":"k","type":"quantitative"},
  "stroke":{"field":"d","type":"nominal","scale":{"domain":["R1","G1","B1","M1","P1","LB","DG","Y1","N1","LO","GR","BK","PU","OL","CY","B2","G2","R2","M2"],"range":["#ff0000","#00cc00","#0000ff","#cc44ff","#ff88aa","#0099ff","#339933","#dddd00","#0000aa","#a0c864","#a0a0a0","#333333","#993399","#888844","#33cccc","#0000ff","#00cc00","#ff0000","#cc44ff"]},"legend":null}}},
{"data":{"name":"gaps"},
 "transform":[{"lookup":"k","from":{"data":{"name":"laps"},"key":"k","fields":["t"]}},{"calculate":"datum.t + datum.g","as":"T"}],
 "mark":{"type":"point","shape":"circle","size":22,"filled":true,"strokeWidth":1.3,"opacity":1,"clip":true},
 "encoding":{"x":{"field":"T","type":"quantitative","axis":null},"y":{"field":"g","type":"quantitative","axis":null},
  "stroke":{"field":"d","type":"nominal","legend":null},
  "fill":{"field":"d","type":"nominal","scale":{"domain":["R1","G1","B1","M1","P1","LB","DG","Y1","N1","LO","GR","BK","PU","OL","CY","B2","G2","R2","M2"],"range":["#ffffff","#ffffff","#ffffff","#ffffff","#ffffff","#ffffff","#ffffff","#ffffff","#ffffff","#ffffff","#ffffff","#ffffff","#ffffff","#ffffff","#ffffff","#ffff00","#ffff00","#ffff00","#ffff00"]},"legend":null}}}
]
}
